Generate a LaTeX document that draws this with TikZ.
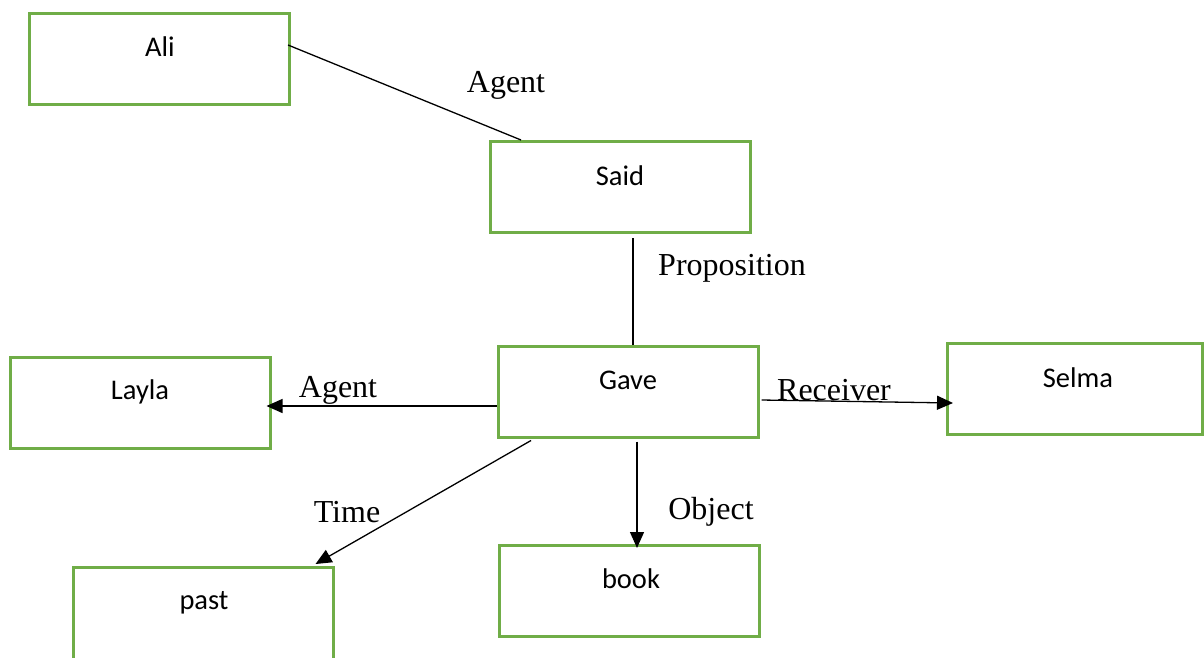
\documentclass[tikz,border=0pt]{standalone}
\usepackage{fontspec}
\setmainfont{Liberation Serif}
\newfontfamily\boxfont{Carlito}
\usetikzlibrary{arrows.meta}
\definecolor{boxgreen}{HTML}{70AD47}
\tikzset{
  box/.style={draw=boxgreen, line width=3pt, minimum width=260pt, minimum height=91pt, inner sep=0pt},
  boxtext/.style={font=\boxfont\fontsize{28.5}{32}\selectfont, inner sep=0pt},
  rel/.style={font=\fontsize{32}{36}\selectfont, inner sep=0pt},
  link/.style={draw=black, line width=1.3pt},
  arr/.style={link, -{Triangle[length=16pt,width=14pt]}}
}
\begin{document}
\begin{tikzpicture}[x=1pt,y=-1pt]
\useasboundingbox[fill=white] (0,0) rectangle (1204,657);
% boxes
\node[box] (ali)   at (159.5,59)  {};
\node[box] (said)  at (620,187)   {};
\node[box] (layla) at (140,403)   {};
\node[box] (gave)  at (628,391.5) {};
\node[box, minimum width=255pt] (selma) at (1075,389) {};
\node[box, minimum height=95pt] (past)  at (203.5,615) {};
\node[box] (book)  at (629.5,591) {};
% box texts
\node[boxtext] (alit)   at (160,47)  {Ali};
\node[boxtext] (saidt)  at (620,176) {Said};
\node[boxtext] (gavet)  at (628,380) {Gave};
\node[boxtext] (laylat) at (140,392) {Layla};
\node[boxtext] (selmat) at (1078,378) {Selma};
\node[boxtext] (pastt)  at (204,603) {past};
\node[boxtext] (bookt)  at (631,579) {book};
% relation labels
\node[rel] (l1) at (506,85)  {Agent};
\node[rel] (l2) at (732,268) {Proposition};
\node[rel] (l3) at (338,390) {Agent};
\node[rel] (l4) at (834,390) {Receiver};
\node[rel] (l5) at (347,512) {Time};
\node[rel] (l6) at (711,512) {Object};
% connectors
\draw[link] ([xshift=-3pt,yshift=14pt]ali.east) -- ([xshift=-99pt]said.north);
\draw[link] ([xshift=13pt,yshift=-4pt]said.south) -- ([xshift=5pt]gave.north);
\draw[arr] ([yshift=-14.5pt]gave.west) -- ([xshift=-5pt,yshift=-3pt]layla.east);
\draw[arr] ([xshift=2pt,yshift=-8.5pt]gave.east) -- ([xshift=7pt,yshift=-14pt]selma.west);
\draw[arr] ([xshift=-97pt,yshift=-2pt]gave.south) -- ([xshift=112pt,yshift=2pt]past.north);
\draw[arr] ([xshift=9pt,yshift=-3pt]gave.south) -- ([xshift=7.5pt,yshift=-4pt]book.north);
\end{tikzpicture}
\end{document}
